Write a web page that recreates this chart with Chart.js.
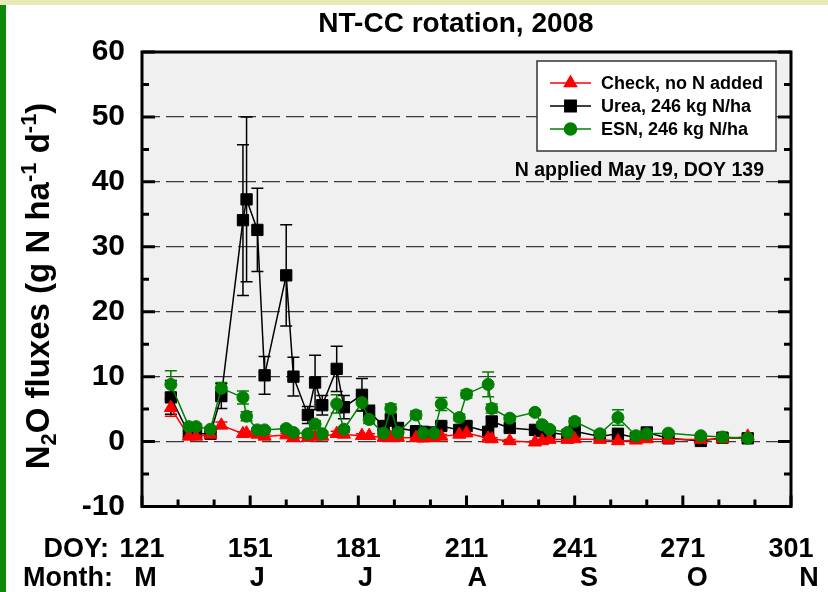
<!DOCTYPE html>
<html>
<head>
<meta charset="utf-8">
<title>NT-CC rotation, 2008</title>
<script src="https://cdn.jsdelivr.net/npm/chart.js@4.4.1/dist/chart.umd.min.js"></script>
<style>
  html, body { margin: 0; padding: 0; background: #fff; }
  #wrap { width: 828px; height: 592px; }
</style>
</head>
<body>
<div id="wrap"><canvas id="fluxChart" width="828" height="592"></canvas></div>
<script>
// ===========================
// DATA
// ===========================
const doy = [129, 134, 136, 140, 143, 149, 150, 153, 155, 161, 163, 167, 169, 171, 175, 177, 182, 184, 188, 190, 192, 197, 199, 202, 204, 209, 211, 217, 218, 223, 230, 232, 234, 239, 241, 248, 253, 258, 261, 267, 276, 282, 289];

const checkFlux = [5.2, 0.8, 0.8, 1.1, 2.5, 1.2, 1.3, 1.1, 0.8, 1.0, 0.6, 0.6, 0.8, 0.8, 1.2, 1.1, 0.9, 0.9, 0.6, 0.6, 0.6, 0.6, 0.5, 0.6, 0.8, 1.1, 1.3, 0.5, 0.4, 0.1, -0.1, 0.1, 0.3, 0.3, 0.4, 0.3, 0.1, 0.2, 0.4, 0.3, 0.3, 0.4, 0.8];
const checkErr  = [1.3, 0.3, 0.3, 0.3, 0.5, 0.3, 0.3, 0.3, 0.3, 0.3, 0.2, 0.2, 0.3, 0.3, 0.4, 0.3, 0.3, 0.3, 0.2, 0.2, 0.2, 0.2, 0.2, 0.2, 0.3, 0.3, 0.3, 0.2, 0.2, 0.2, 0.2, 0.2, 0.2, 0.2, 0.2, 0.2, 0.2, 0.2, 0.2, 0.2, 0.2, 0.2, 0.3];

const ureaFlux = [6.8, 1.2, 1.2, 1.2, 7.0, 34.1, 37.3, 32.6, 10.2, 25.6, 10.0, 4.1, 9.1, 5.6, 11.2, 5.3, 7.2, 4.6, 2.4, 3.3, 2.1, 1.6, 1.5, 1.4, 2.4, 1.8, 2.4, 1.5, 3.1, 2.1, 1.8, 1.6, 1.4, 1.0, 1.6, 0.8, 1.2, 0.6, 1.4, 0.5, 0.1, 0.6, 0.5];
const ureaErr  = [2.6, 0.4, 0.4, 0.4, 1.9, 11.6, 12.7, 6.4, 2.9, 7.8, 3.0, 1.3, 4.2, 1.5, 3.5, 1.8, 2.5, 1.0, 0.5, 0.9, 0.5, 0.4, 0.4, 0.4, 0.5, 0.4, 0.5, 0.4, 0.6, 0.4, 0.4, 0.4, 0.3, 0.3, 0.4, 0.3, 0.3, 0.3, 0.4, 0.3, 0.2, 0.3, 0.3];

const esnFlux = [8.8, 2.3, 2.3, 1.9, 8.2, 6.8, 3.9, 1.8, 1.8, 2.0, 1.4, 1.2, 2.7, 1.2, 5.8, 1.9, 6.0, 3.4, 1.3, 5.1, 1.4, 4.1, 1.3, 1.3, 5.8, 3.7, 7.3, 8.8, 5.1, 3.6, 4.5, 2.6, 1.9, 1.4, 3.1, 1.2, 3.7, 0.9, 1.2, 1.3, 0.9, 0.7, 0.5];
const esnErr  = [2.1, 0.4, 0.4, 0.4, 0.9, 1.0, 0.7, 0.3, 0.3, 0.4, 0.3, 0.3, 0.5, 0.3, 1.4, 0.4, 1.2, 0.6, 0.3, 0.7, 0.3, 0.6, 0.3, 0.3, 1.0, 0.5, 0.6, 1.9, 0.7, 0.4, 0.4, 0.4, 0.3, 0.3, 0.5, 0.3, 1.2, 0.3, 0.3, 0.3, 0.3, 0.3, 0.3];

const doyTicks = [121, 151, 181, 211, 241, 271, 301];
const monthStart = [122, 153, 183, 214, 245, 275, 306];
const monthLabels = ['M', 'J', 'J', 'A', 'S', 'O', 'N'];
const yTicks = [-10, 0, 10, 20, 30, 40, 50, 60];

const seriesNames = ['Check, no N added', 'Urea, 246 kg N/ha', 'ESN, 246 kg N/ha'];

// ===========================
// STYLE HELPERS
// ===========================
const FONT = '"Liberation Sans", Arial, Helvetica, sans-serif';
const bold = size => `bold ${size}px ${FONT}`;
const RED = '#ff0000';
const BLACK = '#000000';
const GREEN = '#008000';

function toPoints(values) {
  return doy.map((d, i) => ({ x: d, y: values[i] }));
}

// ===========================
// PLUGINS
// ===========================

// page background, plot panel fill
const panelPlugin = {
  id: 'panel',
  beforeDraw(chart) {
    const { ctx, chartArea: a } = chart;
    ctx.save();
    ctx.fillStyle = '#ffffff';
    ctx.fillRect(0, 0, chart.width, chart.height);
    ctx.fillStyle = '#e8ecb4';
    ctx.fillRect(0, 0, chart.width, 5);
    ctx.fillStyle = '#0c8a0c';
    ctx.fillRect(0, 5, 6, chart.height - 5);
    ctx.fillStyle = '#f0f0f0';
    ctx.fillRect(a.left, a.top, a.right - a.left, a.bottom - a.top);
    ctx.restore();
  }
};

// vertical error bars with caps, under the markers
const errorBarPlugin = {
  id: 'errorBars',
  beforeDatasetsDraw(chart) {
    const { ctx, scales: { x, y } } = chart;
    ctx.save();
    chart.data.datasets.forEach(ds => {
      ctx.strokeStyle = ds.borderColor;
      ctx.lineWidth = 1.5;
      ds.data.forEach((p, i) => {
        const e = ds.errors[i];
        const px = x.getPixelForValue(p.x);
        const top = y.getPixelForValue(p.y + e);
        const bot = y.getPixelForValue(p.y - e);
        ctx.beginPath();
        ctx.moveTo(px, top); ctx.lineTo(px, bot);
        ctx.moveTo(px - 6, top); ctx.lineTo(px + 6, top);
        ctx.moveTo(px - 6, bot); ctx.lineTo(px + 6, bot);
        ctx.stroke();
      });
    });
    ctx.restore();
  }
};

// frame, inward ticks, titles, month row, legend box and note
const decorPlugin = {
  id: 'decor',
  afterDraw(chart) {
    const { ctx, chartArea: a, scales: { x, y } } = chart;
    ctx.save();

    // frame
    ctx.strokeStyle = '#000';
    ctx.lineWidth = 3;
    ctx.strokeRect(a.left, a.top, a.right - a.left, a.bottom - a.top);

    // y ticks (both sides)
    ctx.lineWidth = 3;
    for (let v = -10; v <= 60; v += 5) {
      const py = y.getPixelForValue(v);
      const len = v % 10 === 0 ? 13 : 7;
      ctx.beginPath();
      ctx.moveTo(a.left, py); ctx.lineTo(a.left + len, py);
      ctx.moveTo(a.right, py); ctx.lineTo(a.right - len, py);
      ctx.stroke();
    }
    // x ticks (bottom)
    for (let d = 121; d <= 301; d += 10) {
      const px = x.getPixelForValue(d);
      const len = (d - 121) % 30 === 0 ? 11 : 7;
      ctx.beginPath();
      ctx.moveTo(px, a.bottom); ctx.lineTo(px, a.bottom - len);
      ctx.stroke();
    }

    // chart title
    ctx.fillStyle = '#000';
    ctx.font = bold(28);
    ctx.textAlign = 'center';
    ctx.textBaseline = 'alphabetic';
    ctx.fillText('NT-CC rotation, 2008', 456, 32);

    // axis row captions
    ctx.font = bold(27);
    ctx.textAlign = 'right';
    ctx.textBaseline = 'alphabetic';
    ctx.fillText('DOY:', 109, 557);
    ctx.fillText('Month:', 113, 586);
    ctx.textAlign = 'center';
    monthStart.forEach((d, i) => {
      ctx.fillText(monthLabels[i], x.getPixelForValue(d), 586);
    });

    // y axis title with sub/superscripts
    const big = bold(33), small = bold(22);
    const parts = [
      { t: 'N', f: big, dy: 0 },
      { t: '2', f: small, dy: 7 },
      { t: 'O fluxes (g N ha', f: big, dy: 0 },
      { t: '-1', f: small, dy: -13 },
      { t: ' d', f: big, dy: 0 },
      { t: '-1', f: small, dy: -13 },
      { t: ')', f: big, dy: 0 }
    ];
    ctx.translate(49, 286);
    ctx.rotate(-Math.PI / 2);
    ctx.textAlign = 'left';
    let total = 0;
    parts.forEach(p => { ctx.font = p.f; total += ctx.measureText(p.t).width; });
    let pos = -total / 2;
    parts.forEach(p => {
      ctx.font = p.f;
      ctx.fillText(p.t, pos, p.dy);
      pos += ctx.measureText(p.t).width;
    });
    ctx.setTransform(1, 0, 0, 1, 0, 0);

    // legend box
    ctx.fillStyle = '#fff';
    ctx.fillRect(537, 61, 239, 90);
    ctx.strokeStyle = '#333';
    ctx.lineWidth = 1.5;
    ctx.strokeRect(537, 61, 239, 90);
    const styles = [
      { c: RED, shape: 'triangle', r: 7 },
      { c: BLACK, shape: 'rect', r: 8 },
      { c: GREEN, shape: 'circle', r: 6 }
    ];
    ctx.font = bold(18);
    ctx.textAlign = 'left';
    ctx.textBaseline = 'middle';
    seriesNames.forEach((name, i) => {
      const ly = 83 + i * 23;
      const s = styles[i];
      ctx.strokeStyle = s.c;
      ctx.lineWidth = 1.5;
      ctx.beginPath();
      ctx.moveTo(550, ly); ctx.lineTo(591, ly);
      ctx.stroke();
      ctx.fillStyle = s.c;
      Chart.helpers.drawPoint(ctx, { pointStyle: s.shape, radius: s.r, borderWidth: 1 }, 570.5, ly);
      ctx.fill();
      ctx.fillStyle = '#000';
      ctx.fillText(name, 601, ly + 1);
    });

    // application note
    ctx.font = bold(19.5);
    ctx.textAlign = 'right';
    ctx.textBaseline = 'alphabetic';
    ctx.fillText('N applied May 19, DOY 139', 764, 176);

    ctx.restore();
  }
};

// ===========================
// CHART
// ===========================
function makeSet(label, values, errors, color, shape, radius) {
  return {
    label: label,
    data: toPoints(values),
    errors: errors,
    borderColor: color,
    backgroundColor: color,
    pointBackgroundColor: color,
    pointBorderColor: color,
    pointStyle: shape,
    pointRadius: radius,
    pointBorderWidth: 1,
    borderWidth: 1.5,
    tension: 0,
    fill: false
  };
}

const ctx = document.getElementById('fluxChart');
const fluxChart = new Chart(ctx, {
  type: 'line',
  data: {
    // first dataset is painted last (on top)
    datasets: [
      makeSet(seriesNames[2], esnFlux, esnErr, GREEN, 'circle', 6),
      makeSet(seriesNames[0], checkFlux, checkErr, RED, 'triangle', 7.5),
      makeSet(seriesNames[1], ureaFlux, ureaErr, BLACK, 'rect', 8)
    ]
  },
  options: {
    responsive: false,
    animation: false,
    devicePixelRatio: 1,
    layout: { autoPadding: false, padding: { top: 52, right: 37, bottom: 0, left: 0 } },
    plugins: {
      legend: { display: false },
      tooltip: { enabled: false }
    },
    scales: {
      x: {
        type: 'linear',
        min: 121,
        max: 301,
        grid: { display: false },
        border: { display: false },
        afterBuildTicks: scale => { scale.ticks = doyTicks.map(v => ({ value: v })); },
        afterFit: scale => {
          scale.height = 85.5;
          // labels may overhang the panel; the page margins are fixed by hand
          scale.paddingLeft = 0;
          scale.paddingRight = 0;
        },
        ticks: {
          autoSkip: false,
          maxRotation: 0,
          padding: 19,
          color: '#000',
          font: { family: FONT, weight: 'bold', size: 27 }
        }
      },
      y: {
        min: -10,
        max: 60,
        afterBuildTicks: scale => { scale.ticks = yTicks.map(v => ({ value: v })); },
        afterFit: scale => { scale.width = 142; },
        grid: { color: '#3a3a3a', lineWidth: 1.2, drawTicks: false },
        border: { display: false, dash: [18, 6] },
        ticks: {
          padding: 17,
          color: '#000',
          font: { family: FONT, weight: 'bold', size: 30 }
        }
      }
    }
  },
  plugins: [panelPlugin, errorBarPlugin, decorPlugin]
});
</script>
</body>
</html>
